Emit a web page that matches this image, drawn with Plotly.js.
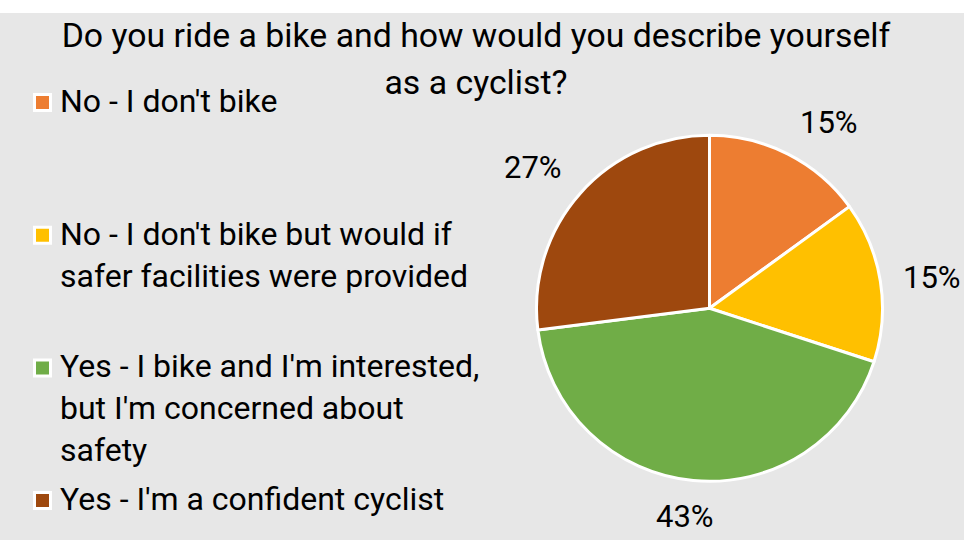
<!DOCTYPE html>
<html>
<head>
<meta charset="utf-8">
<script src="https://cdn.plot.ly/plotly-3.0.1.min.js"></script>
<style>html,body{margin:0;padding:0;background:#fff;}#chart{width:964px;height:540px;}</style>
</head>
<body>
<div id="chart"></div>
<script>
// ---- data ----
const categories = [
  "No - I don't bike",
  "No - I don't bike but would if<br>safer facilities were provided",
  "Yes - I bike and I'm interested,<br>but I'm concerned about<br>safety",
  "Yes - I'm a confident cyclist"
];
const values = [15, 15, 43, 27];
const colors = ['#ED7D31', '#FFC000', '#70AD47', '#9E480E'];
const titleText = 'Do you ride a bike and how would you describe yourself<br>as a cyclist?';

// ---- layout helpers ----
const W = 964, H = 540;
const px = x => x / W;
const py = y => 1 - y / H;
const FONT = 'Roboto, "Liberation Sans", Arial, sans-serif';

// pie geometry (pixels)
const cx = 709.5, cy = 308.3, R = 173;
const domain = {x: [px(cx - R), px(cx + R)], y: [py(cy + R), py(cy - R)]};

const trace = {
  type: 'pie',
  labels: categories.map(c => c.replace(/<br>/g, ' ')),
  values: values,
  sort: false,
  direction: 'clockwise',
  rotation: 0,
  textinfo: 'none',
  hoverinfo: 'label+percent',
  showlegend: false,
  domain: domain,
  marker: {colors: colors, line: {color: '#ffffff', width: 3}}
};

const annotations = [];
const shapes = [];

// background panel
shapes.push({type: 'rect', xref: 'paper', yref: 'paper', x0: 0, x1: 1, y0: 0, y1: py(13),
  fillcolor: '#e7e7e7', line: {width: 0}, layer: 'below'});

// percentage labels outside slices
const total = values.reduce((a, b) => a + b, 0);
let cum = 0;
const labelDist = R + 21;
values.forEach((v, i) => {
  const mid = (cum + v / 2) / total * 2 * Math.PI;
  cum += v;
  const s = Math.sin(mid), c = Math.cos(mid);
  const lx = cx + labelDist * s, ly = cy - labelDist * c;
  const ya = c > 0.3 ? 'bottom' : (c < -0.3 ? 'top' : 'middle');
  annotations.push({
    xref: 'paper', yref: 'paper', x: px(lx), y: py(ly),
    xanchor: s > 0.3 ? 'left' : (s < -0.3 ? 'right' : 'center'),
    yanchor: ya,
    yshift: ya === 'bottom' ? -8 : (ya === 'top' ? 5 : 0),
    xshift: ya === 'top' ? -6 : 0,
    text: Math.round(v / total * 100) + '%', showarrow: false,
    font: {family: FONT, size: 31, color: '#000'}
  });
});

// custom legend (left side)
const legTop = 101, legStep = 132.7, lineGap = 42;
categories.forEach((cat, i) => {
  const y0 = legTop + i * legStep;
  shapes.push({type: 'rect', xref: 'paper', yref: 'paper',
    x0: px(34.5), x1: px(50.5), y0: py(y0 + 9.5), y1: py(y0 - 6.5),
    fillcolor: colors[i], line: {color: '#ffffff', width: 3}, layer: 'above'});
  cat.split('<br>').forEach((line, j) => {
    annotations.push({
      xref: 'paper', yref: 'paper', x: px(58), y: py(y0 + j * lineGap),
      xanchor: 'left', yanchor: 'middle', align: 'left',
      text: line, showarrow: false,
      font: {family: FONT, size: 32, color: '#000'}
    });
  });
});

const layout = {
  width: W, height: H,
  margin: {l: 0, r: 0, t: 0, b: 0},
  paper_bgcolor: '#ffffff',
  plot_bgcolor: 'rgba(0,0,0,0)',
  title: {
    text: titleText,
    font: {family: FONT, size: 33.8, color: '#000'},
    x: px(476), xanchor: 'center', xref: 'paper',
    y: py(47), yanchor: 'top', yref: 'paper'
  },
  showlegend: false,
  shapes: shapes,
  annotations: annotations
};

Plotly.newPlot('chart', [trace], layout, {displayModeBar: false, staticPlot: true}).then(gd => {
  // widen the title line spacing to match the reference
  const lines = gd.querySelectorAll('.gtitle tspan.line');
  if (lines.length > 1) {
    for (let k = 1; k < lines.length; k++) lines[k].setAttribute('dy', '47');
  }
});
</script>
</body>
</html>
